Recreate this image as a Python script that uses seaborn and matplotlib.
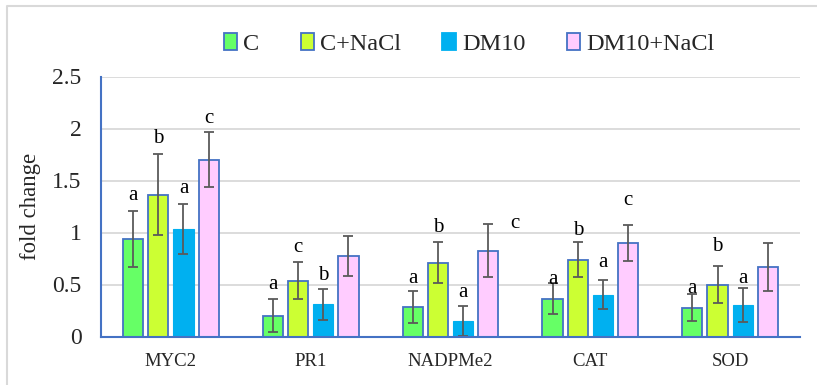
import matplotlib
matplotlib.use("Agg")
import matplotlib.pyplot as plt
import seaborn as sns
import pandas as pd
import numpy as np
from matplotlib.lines import Line2D
from matplotlib.patches import Patch

genes = ["MYC2", "PR1", "NADPMe2", "CAT", "SOD"]
treatments = ["C", "C+NaCl", "DM10", "DM10+NaCl"]

val_C = [0.935, 0.20, 0.284, 0.364, 0.277]
val_CNaCl = [1.363, 0.537, 0.71, 0.739, 0.50]
val_DM10 = [1.03, 0.31, 0.149, 0.40, 0.303]
val_DM10NaCl = [1.70, 0.774, 0.825, 0.90, 0.665]

err_C = [0.27, 0.16, 0.15, 0.15, 0.13]
err_CNaCl = [0.39, 0.175, 0.195, 0.165, 0.175]
err_DM10 = [0.24, 0.15, 0.14, 0.14, 0.16]
err_DM10NaCl = [0.265, 0.19, 0.255, 0.17, 0.23]

letters_C = ["a", "a", "a", "a", "a"]
letters_CNaCl = ["b", "c", "b", "b", "b"]
letters_DM10 = ["a", "b", "a", "a", "a"]
letters_DM10NaCl = ["c", "", "c", "c", ""]

# letter heights
lety_C = [1.36, 0.50, 0.56, 0.55, 0.46]
lety_CNaCl = [1.90, 0.86, 1.05, 1.02, 0.87]
lety_DM10 = [1.42, 0.59, 0.42, 0.71, 0.56]
lety_DM10NaCl = [2.10, 0.0, 1.09, 1.31, 0.0]

yticks = [0, 0.5, 1, 1.5, 2, 2.5]
ytick_labels = ["0", "0.5", "1", "1.5", "2", "2.5"]

colors = ["#66FF66", "#CCFF33", "#00B0F0", "#FFCCFF"]
edge_blue = "#4472C4"

vals = [val_C, val_CNaCl, val_DM10, val_DM10NaCl]
errs = [err_C, err_CNaCl, err_DM10, err_DM10NaCl]
letters = [letters_C, letters_CNaCl, letters_DM10, letters_DM10NaCl]
letys = [lety_C, lety_CNaCl, lety_DM10, lety_DM10NaCl]

rows = []
for t, v in zip(treatments, vals):
    for g, x in zip(genes, v):
        rows.append({"gene": g, "treatment": t, "value": x})
df = pd.DataFrame(rows)

sns.set_style("white")
plt.rcParams["font.family"] = ["Liberation Serif", "DejaVu Serif"]

fig = plt.figure(figsize=(8.17, 3.85), dpi=100)
ax = fig.add_axes([101 / 817, 1 - 336.5 / 385, 699 / 817, (336.5 - 76.5) / 385])

sns.barplot(data=df, x="gene", y="value", hue="treatment", order=genes,
            hue_order=treatments, palette=colors, width=0.72, gap=0.2,
            saturation=1, errorbar=None, ax=ax, legend=False, zorder=3)

bar_containers = list(ax.containers)
for ti, cont in enumerate(bar_containers):
    for gi, bar in enumerate(cont.patches):
        if ti == 2:
            bar.set_edgecolor(colors[2])
            bar.set_linewidth(0.8)
        else:
            bar.set_edgecolor(edge_blue)
            bar.set_linewidth(1.3)
        cx = bar.get_x() + bar.get_width() / 2
        h = bar.get_height()
        ax.errorbar(cx, h, yerr=errs[ti][gi], color="#5A5A5A", lw=1.3,
                    capsize=3.5, capthick=1.3, zorder=4)
        lab = letters[ti][gi]
        if lab:
            dx = 0.19 if (ti == 3 and gi == 2) else 0.0
            ax.text(cx + dx, letys[ti][gi], lab, ha="center", va="center",
                    fontsize=15, color="black", zorder=5)

ax.set_ylim(0, 2.5)
ax.set_xlim(-0.5, 4.5)
ax.set_yticks(yticks)
ax.set_yticklabels(ytick_labels)
ax.yaxis.grid(True, color="#D9D9D9", lw=1.3, zorder=0)
ax.set_axisbelow(True)
for s in ["top", "right"]:
    ax.spines[s].set_visible(False)
for s in ["left", "bottom"]:
    ax.spines[s].set_color(edge_blue)
    ax.spines[s].set_linewidth(1.5)
    ax.spines[s].set_zorder(6)
ax.tick_params(axis="y", direction="in", length=7, width=1.5, color=edge_blue,
               labelsize=17, pad=14)
ax.tick_params(axis="x", length=0, labelsize=13.5, pad=12)
ax.set_xlabel("")
ax.set_ylabel("fold change", fontsize=16.4, labelpad=8)

handles = [Patch(facecolor=c, edgecolor=(edge_blue if i != 2 else c), lw=1.3)
           for i, c in enumerate(colors)]
fig.legend(handles, treatments, loc="center", bbox_to_anchor=(0.574, 1 - 44 / 385),
           ncol=4, frameon=False, fontsize=17.5, handlelength=0.55, handleheight=0.7,
           handletextpad=0.25, columnspacing=1.7)

# outer frame of the original figure
fig.add_artist(Line2D([7 / 817, 7 / 817, 1.0], [0.0, 1 - 6 / 385, 1 - 6 / 385],
                      transform=fig.transFigure, color="#D9D9D9", lw=1.5))

fig.savefig("out.png", dpi=100)
